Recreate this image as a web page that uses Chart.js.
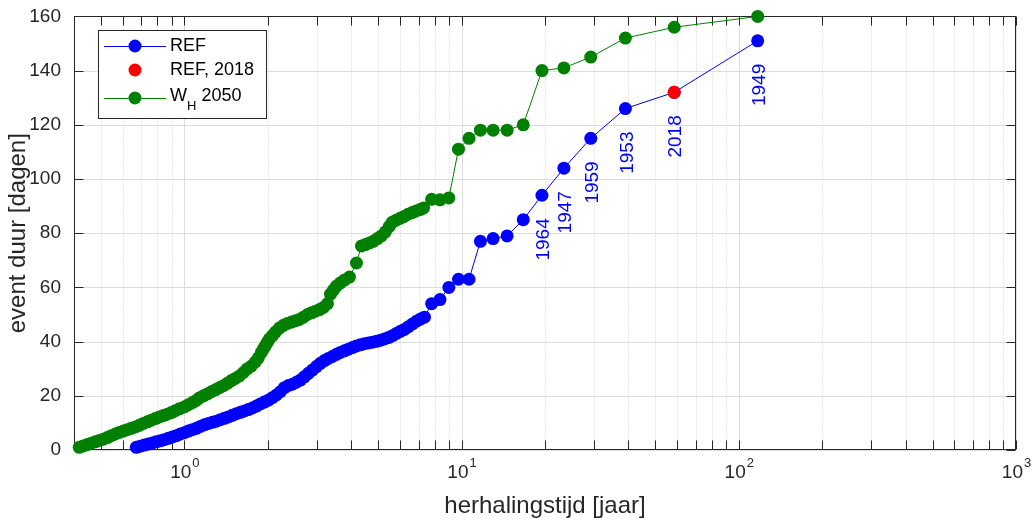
<!DOCTYPE html>
<html><head><meta charset="utf-8">
<script src="https://cdn.jsdelivr.net/npm/chart.js@4"></script>
<style>html,body{margin:0;padding:0;background:#fff}#c{display:block}</style>
</head><body>
<canvas id="c" width="1032" height="522"></canvas>
<script>
// ---- data ----
const refT = [0.6710,0.6937,0.7171,0.7414,0.7664,0.7923,0.8191,0.8468,0.8754,0.9050,0.9356,0.9672,1.0000,1.0338,1.0687,1.1049,1.1422,1.1808,1.2207,1.2620,1.3046,1.3487,1.3943,1.4414,1.4901,1.5405,1.5926,1.6464,1.7020,1.7596,1.8190,1.8805,1.9441,2.0098,2.0777,2.1479,2.2205,2.2956,2.3732,2.4534,2.5363,2.6220,2.7106,2.8022,2.8969,2.9948,3.0960,3.2007,3.3088,3.4207,3.5363,3.6558,3.7794,3.9071,4.0391,4.1756,4.3168,4.4627,4.6135,4.7694,4.9306,5.0973,5.2696,5.4477,5.6318,5.8221,6.0189,6.2224,6.4327,6.6501,6.8749,7.1072,7.3474,7.8,8.36,9.0,9.75,10.64,11.7,13.0,14.6,16.7,19.5,23.4,29.25,39.0,58.5,117.0];
const refDays = [1,1.4,1.8,2.2,2.6,3,3.4,3.8,4.3,4.8,5.3,5.9,6.4,7,7.5,8,8.7,9.3,9.8,10.2,10.6,11.2,11.7,12.2,12.8,13.4,13.9,14.4,14.9,15.5,16.2,17,17.7,18.4,19.3,20.3,21.5,23,23.8,24.3,25,25.8,27,28.3,29.5,30.8,32,33,33.8,34.5,35.3,36,36.6,37.2,37.8,38.4,38.8,39.2,39.5,39.8,40.1,40.5,41,41.5,42.2,43,43.8,44.5,45.5,46.5,47.5,48.3,49,54,55.5,60,63,63,77,78,79,85,94,104,115,126,132,151];
const ref2018T = [58.5];
const ref2018Days = [132];
const whT = [0.4177,0.4319,0.4464,0.4616,0.4773,0.4934,0.5101,0.5274,0.5452,0.5637,0.5826,0.6024,0.6228,0.6438,0.6655,0.6882,0.7112,0.7353,0.7603,0.7860,0.8124,0.8398,0.8682,0.8976,0.9279,0.9593,1.0,1.034,1.069,1.105,1.133,1.172,1.211,1.252,1.294,1.338,1.383,1.430,1.478,1.528,1.580,1.634,1.689,1.746,1.804,1.850,1.897,1.929,1.961,1.994,2.027,2.078,2.131,2.203,2.278,2.355,2.435,2.517,2.602,2.690,2.780,2.874,2.971,3.072,3.176,3.283,3.367,3.452,3.539,3.658,3.782,3.941,4.178,4.353,4.500,4.651,4.808,4.970,5.138,5.311,5.490,5.618,5.808,6.003,6.206,6.415,6.632,6.855,7.086,7.294,7.8,8.36,9.0,9.75,10.64,11.7,13.0,14.6,16.7,19.5,23.4,29.25,39.0,58.5,117.0];
const whDays = [1,1.5,2,2.5,3,3.5,4,4.6,5.3,5.9,6.5,7,7.5,8,8.5,9.1,9.8,10.4,11,11.6,12.2,12.7,13.2,13.8,14.5,15.2,15.9,16.7,17.5,18.3,19.2,20,20.7,21.5,22.2,23,23.7,24.6,25.6,26.4,27.3,28.6,30,31,32.5,34,36,37.3,38.5,39.8,41,42.2,43.5,45,46,46.7,47.2,47.7,48.2,49,50,50.6,51.2,51.8,52.6,54,57.5,59,60.5,61.7,62.7,63.8,69,75.3,75.8,76.4,77,78,79,80.5,82.5,84,84.8,85.5,86.2,87,87.6,88.2,88.7,89.3,92.5,92.3,93,111,115,118,118,118,120,140,141,145,152,156,160];
const yearLabels = ['1964','1947','1959','1953','2018','1949'];
const yearT = [19.5,23.4,29.25,39.0,58.5,117.0];
const yearDays = [94,104,115,126,132,151];
const xTickValues = [1,10,100,1000];
const xTickBase = ['10','10','10','10'];
const xTickExp = ['0','1','2','3'];
const yTickValues = [0,20,40,60,80,100,120,140,160];
const seriesNames = ['REF','REF, 2018','W_H 2050'];
const legendParts = ['W','H',' 2050'];

const FONT = '"Liberation Sans", Arial, Helvetica, sans-serif';
const AX = '#262626';

const matlabAxes = {
  id: 'matlabAxes',
  beforeDatasetsDraw(chart) {
    const {ctx, chartArea: a, scales: {x, y}} = chart;
    const L = Math.round(a.left) + 0.5, R = Math.round(a.right) - 0.5;
    const T = Math.round(a.top) + 0.5, B = Math.round(a.bottom) - 0.5;
    ctx.save();
    const xs = [];
    for (let d = -1; d <= 3; d++) for (let k = 1; k <= 9; k++) {
      const v = k * Math.pow(10, d);
      if (v < x.min * 0.999 || v > x.max * 1.001) continue;
      xs.push({v, major: k === 1});
    }
    xs.forEach(t => {
      const px = Math.round(x.getPixelForValue(t.v)) + 0.5;
      ctx.beginPath();
      if (t.major) { ctx.setLineDash([]); ctx.strokeStyle = '#dcdcdc'; }
      else { ctx.setLineDash([1, 2]); ctx.strokeStyle = '#cfcfcf'; }
      ctx.lineWidth = 1;
      ctx.moveTo(px, T); ctx.lineTo(px, B); ctx.stroke();
    });
    ctx.setLineDash([]);
    ctx.strokeStyle = '#dcdcdc';
    yTickValues.forEach(v => {
      const py = Math.round(y.getPixelForValue(v)) + 0.5;
      ctx.beginPath(); ctx.moveTo(L, py); ctx.lineTo(R, py); ctx.stroke();
    });
    ctx.strokeStyle = AX; ctx.lineWidth = 1;
    ctx.strokeRect(L, T, R - L, B - T);
    const tl = 9;
    ctx.beginPath();
    xs.forEach(t => {
      const px = Math.round(x.getPixelForValue(t.v)) + 0.5;
      ctx.moveTo(px, B); ctx.lineTo(px, B - tl);
      ctx.moveTo(px, T); ctx.lineTo(px, T + tl);
    });
    yTickValues.forEach(v => {
      const py = Math.round(y.getPixelForValue(v)) + 0.5;
      ctx.moveTo(L, py); ctx.lineTo(L + tl, py);
      ctx.moveTo(R, py); ctx.lineTo(R - tl, py);
    });
    ctx.stroke();
    // x tick labels 10^n
    ctx.fillStyle = AX;
    ctx.textAlign = 'left';
    ctx.textBaseline = 'alphabetic';
    xTickValues.forEach((v, i) => {
      const px = x.getPixelForValue(v);
      ctx.font = '19px ' + FONT;
      const w1 = ctx.measureText(xTickBase[i]).width;
      ctx.font = '13px ' + FONT;
      const w2 = ctx.measureText(xTickExp[i]).width;
      const x0 = px - (w1 + w2) / 2;
      ctx.font = '19px ' + FONT;
      ctx.fillText(xTickBase[i], x0, a.bottom + 28);
      ctx.font = '13px ' + FONT;
      ctx.fillText(xTickExp[i], x0 + w1 + 1, a.bottom + 17);
    });
    ctx.restore();
  },
  afterDatasetsDraw(chart) {
    const {ctx, scales: {x, y}} = chart;
    ctx.save();
    ctx.fillStyle = '#0000ff';
    ctx.font = '19px ' + FONT;
    ctx.textAlign = 'right';
    ctx.textBaseline = 'middle';
    yearLabels.forEach((lab, i) => {
      const px = x.getPixelForValue(yearT[i]);
      const py = y.getPixelForValue(yearDays[i]);
      ctx.save();
      ctx.translate(px + 2, py + 23);
      ctx.rotate(-Math.PI / 2);
      ctx.fillText(lab, 0, 0);
      ctx.restore();
    });
    const bx = 98.5, by = 30.5, bw = 168, bh = 88;
    ctx.fillStyle = '#ffffff';
    ctx.fillRect(bx, by, bw, bh);
    ctx.strokeStyle = AX; ctx.lineWidth = 1;
    ctx.strokeRect(bx, by, bw, bh);
    const ds = chart.data.datasets;
    const rows = [
      {d: ds[1], y: 46, line: true, text: ds[1].label},
      {d: ds[0], y: 70, line: false, text: ds[0].label},
      {d: ds[2], y: 98, line: true, text: null}
    ];
    ctx.textAlign = 'left';
    ctx.textBaseline = 'middle';
    rows.forEach(r => {
      if (r.line) {
        ctx.strokeStyle = r.d.borderColor; ctx.lineWidth = 1;
        ctx.beginPath(); ctx.moveTo(104, r.y + 0.5); ctx.lineTo(166, r.y + 0.5); ctx.stroke();
      }
      ctx.fillStyle = r.d.pointBackgroundColor;
      ctx.beginPath(); ctx.arc(135, r.y, 6.5, 0, Math.PI * 2); ctx.fill();
      ctx.fillStyle = '#000000';
      ctx.font = '18px ' + FONT;
      if (r.text) {
        ctx.fillText(r.text, 170, r.y);
      } else {
        ctx.fillText(legendParts[0], 170, r.y - 2);
        const w1 = ctx.measureText(legendParts[0]).width;
        ctx.font = '13px ' + FONT;
        ctx.fillText(legendParts[1], 170 + w1, r.y + 8);
        const w2 = ctx.measureText(legendParts[1]).width;
        ctx.font = '18px ' + FONT;
        ctx.fillText(legendParts[2], 170 + w1 + w2, r.y - 2);
      }
    });
    ctx.restore();
  }
};

const pts = (xa, ya) => xa.map((v, i) => ({x: v, y: ya[i]}));
const mk = (label, data, color, showLine) => ({
  label, data, showLine,
  borderColor: color, backgroundColor: color,
  pointBackgroundColor: color, pointBorderColor: color,
  borderWidth: 1, pointRadius: 6.5, pointHoverRadius: 6.5, pointBorderWidth: 0,
  tension: 0, clip: false, fill: false
});

new Chart(document.getElementById('c'), {
  type: 'line',
  data: {
    datasets: [
      mk(seriesNames[1], pts(ref2018T, ref2018Days), '#ff0000', false),
      mk(seriesNames[0], pts(refT, refDays), '#0000ff', true),
      mk(seriesNames[2], pts(whT, whDays), '#008000', true)
    ]
  },
  options: {
    responsive: false,
    animation: false,
    devicePixelRatio: 1,
    events: [],
    layout: {padding: {top: 14, right: 16, left: 0, bottom: 0}},
    plugins: {legend: {display: false}, tooltip: {enabled: false}},
    scales: {
      x: {
        type: 'logarithmic', min: 0.4, max: 1000, position: 'bottom',
        afterBuildTicks: s => { s.ticks = xTickValues.map(v => ({value: v, major: true})); },
        afterFit: s => { s.height = 72; s.paddingLeft = 0; s.paddingRight = 0; },
        grid: {display: false}, border: {display: false},
        ticks: {display: false},
        title: {display: true, text: 'herhalingstijd [jaar]', color: AX,
          font: {size: 24, family: FONT}, padding: {top: 0, bottom: 1}}
      },
      y: {
        type: 'linear', min: 0, max: 160,
        afterBuildTicks: s => { s.ticks = yTickValues.map(v => ({value: v})); },
        afterFit: s => { s.width = 74; },
        grid: {display: false}, border: {display: false},
        ticks: {padding: 5, color: AX, font: {size: 19, family: FONT}},
        title: {display: true, text: 'event duur [dagen]', color: AX,
          font: {size: 24, family: FONT}, padding: {top: 4, bottom: 0}}
      }
    }
  },
  plugins: [matlabAxes]
});
</script>
</body></html>
